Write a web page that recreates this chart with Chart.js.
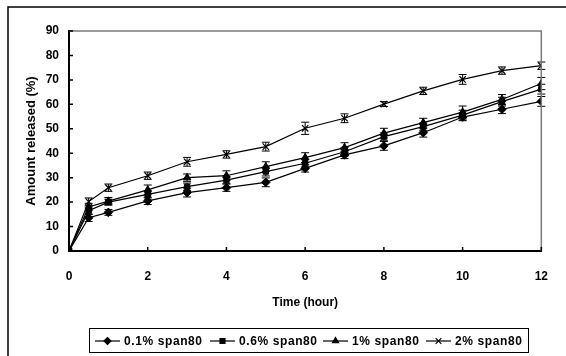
<!DOCTYPE html>
<html>
<head>
<meta charset="utf-8">
<script src="https://cdn.jsdelivr.net/npm/chart.js@4/dist/chart.umd.min.js"></script>
<style>
    html, body { margin: 0; padding: 0; background: #fff; }
    #wrap { width: 566px; height: 356px; position: relative; }
</style>
</head>
<body>
<div id="wrap"><canvas id="release-chart" width="566" height="356"></canvas></div>
<script>
/* --------------------------------------------------------------
   DATA – release profile
-------------------------------------------------------------- */

const timeHours = [0, 0.5, 1, 2, 3, 4, 5, 6, 7, 8, 9, 10, 11, 12];

const seriesNames = ["0.1% span80", "0.6% span80", "1% span80", "2% span80"];

const span01 = [0, 13.6, 15.8, 20.5, 23.9, 25.9, 28.1, 33.8, 39.3, 43.0, 48.4, 54.8, 58.0, 61.2];
const span06 = [0, 16.5, 20.0, 23.2, 26.3, 29.0, 32.5, 35.9, 40.6, 46.8, 50.9, 55.6, 61.1, 66.2];
const span1  = [0, 18.0, 20.4, 25.0, 30.0, 30.8, 34.5, 38.2, 42.3, 48.2, 52.5, 56.8, 62.0, 68.5];
const span2  = [0, 20.2, 25.9, 30.8, 36.5, 39.5, 42.7, 50.2, 54.3, 60.1, 65.5, 70.2, 73.8, 75.8];

// half-length of the error bars (%)
const err01 = [0, 1.5, 1.2, 1.5, 1.8, 1.5, 1.8, 1.5, 1.5, 1.8, 1.8, 1.5, 1.8, 2.0];
const err06 = [0, 1.5, 1.2, 1.5, 1.5, 1.5, 1.8, 1.5, 1.8, 1.5, 1.5, 2.0, 1.8, 2.0];
const err1  = [0, 1.5, 1.5, 2.0, 1.5, 2.0, 2.0, 2.0, 2.0, 2.0, 1.8, 2.5, 2.0, 2.5];
const err2  = [0, 1.5, 1.5, 1.5, 1.8, 1.5, 1.8, 2.5, 1.8, 1.0, 1.5, 2.0, 1.5, 1.5];

const xTicks = [0, 2, 4, 6, 8, 10, 12];
const yTicks = [0, 10, 20, 30, 40, 50, 60, 70, 80, 90];

const markerStyles = ["rectRot", "rect", "triangle", "crossRot"];

/* --------------------------------------------------------------
   HELPERS
-------------------------------------------------------------- */

const FONT = "Arial, 'Liberation Sans', sans-serif";

function toPoints(values) {
    return timeHours.map((t, i) => ({ x: t, y: values[i] }));
}

function makeDataset(i, values, errors) {
    const style = markerStyles[i];
    return {
        label: seriesNames[i],
        data: toPoints(values),
        errors: errors,
        borderColor: "#000",
        backgroundColor: "#000",
        borderWidth: 1.2,
        pointStyle: style,
        pointRadius: style === "rect" ? 3.8 : (style === "crossRot" ? 4.5 : 4.3),
        pointBorderWidth: style === "crossRot" ? 1.2 : 1,
        pointBackgroundColor: "#000",
        pointBorderColor: "#000",
        tension: 0
    };
}

/* --------------------------------------------------------------
   PLUGINS – frame, inward ticks, error bars, legend
-------------------------------------------------------------- */

const framePlugin = {
    id: "frame",
    beforeDraw(chart) {
        const ctx = chart.ctx;
        ctx.save();
        ctx.fillStyle = "#fff";
        ctx.fillRect(0, 0, chart.width, chart.height);
        // outer figure border (left + top only visible)
        ctx.strokeStyle = "#000";
        ctx.lineWidth = 1.5;
        ctx.beginPath();
        ctx.moveTo(8, chart.height);
        ctx.lineTo(8, 7);
        ctx.lineTo(chart.width, 7);
        ctx.stroke();
        ctx.restore();
    },
    afterDraw(chart) {
        const ctx = chart.ctx;
        const a = chart.chartArea;
        ctx.save();
        // plot area top/right edge
        ctx.strokeStyle = "#7a7a7a";
        ctx.lineWidth = 1.5;
        ctx.beginPath();
        ctx.moveTo(a.left, a.top);
        ctx.lineTo(a.right, a.top);
        ctx.lineTo(a.right, a.bottom);
        ctx.stroke();

        // tick marks pointing into the plot
        ctx.strokeStyle = "#000";
        ctx.lineWidth = 1.5;
        const xs = chart.scales.x, ys = chart.scales.y;
        ctx.beginPath();
        xTicks.forEach(v => {
            const px = xs.getPixelForValue(v);
            ctx.moveTo(px, a.bottom);
            ctx.lineTo(px, a.bottom - 4);
        });
        yTicks.forEach(v => {
            const py = ys.getPixelForValue(v);
            ctx.moveTo(a.left, py);
            ctx.lineTo(a.left + 4, py);
        });
        ctx.stroke();
        ctx.restore();
    }
};

const errorBarPlugin = {
    id: "errorBars",
    beforeDatasetsDraw(chart) {
        const ctx = chart.ctx;
        const ys = chart.scales.y;
        ctx.save();
        ctx.strokeStyle = "#000";
        ctx.lineWidth = 1;
        chart.data.datasets.forEach((ds, i) => {
            const meta = chart.getDatasetMeta(i);
            meta.data.forEach((pt, j) => {
                const e = ds.errors[j];
                if (!e) return;
                const v = ds.data[j].y;
                const top = ys.getPixelForValue(v + e);
                const bot = ys.getPixelForValue(v - e);
                ctx.beginPath();
                ctx.moveTo(pt.x, top);
                ctx.lineTo(pt.x, bot);
                ctx.moveTo(pt.x - 4, top);
                ctx.lineTo(pt.x + 4, top);
                ctx.moveTo(pt.x - 4, bot);
                ctx.lineTo(pt.x + 4, bot);
                ctx.stroke();
            });
        });
        ctx.restore();
    }
};

// legend drawn as in the original: short line with the marker in the middle
const legendX = [95, 210, 323, 426];

const legendPlugin = {
    id: "lineLegend",
    afterDraw(chart) {
        const ctx = chart.ctx;
        ctx.save();
        ctx.strokeStyle = "#000";
        ctx.lineWidth = 1;
        ctx.strokeRect(89.5, 328.5, 439, 24);

        const cy = 341;
        ctx.font = "bold 12px " + FONT;
        ctx.letterSpacing = "0.6px";
        ctx.textBaseline = "middle";
        ctx.fillStyle = "#000";
        chart.data.datasets.forEach((ds, i) => {
            const x0 = legendX[i];
            ctx.lineWidth = 1.2;
            ctx.beginPath();
            ctx.moveTo(x0, cy);
            ctx.lineTo(x0 + 25, cy);
            ctx.stroke();
            Chart.helpers.drawPoint(ctx, {
                pointStyle: ds.pointStyle,
                radius: ds.pointStyle === "crossRot" ? 4 : 3.5,
                borderWidth: 1
            }, x0 + 12.5, cy);
            ctx.fillText(ds.label, x0 + 29, cy + 0.5);
        });
        ctx.restore();
    }
};

/* --------------------------------------------------------------
   CHART
-------------------------------------------------------------- */

const tickFont = { family: FONT, size: 12, weight: "bold" };

new Chart(document.getElementById("release-chart"), {
    type: "line",
    data: {
        datasets: [
            makeDataset(0, span01, err01),
            makeDataset(1, span06, err06),
            makeDataset(2, span1, err1),
            makeDataset(3, span2, err2)
        ]
    },
    options: {
        responsive: false,
        animation: false,
        layout: { padding: { left: 8, top: 31, right: 17, bottom: 0 } },
        plugins: {
            legend: { display: false },
            tooltip: { enabled: false }
        },
        scales: {
            x: {
                type: "linear",
                min: 0,
                max: 12,
                afterFit: s => { s.height = 105; },
                afterBuildTicks: s => { s.ticks = xTicks.map(v => ({ value: v })); },
                grid: { display: false, drawTicks: false },
                border: { display: true, color: "#000", width: 2 },
                ticks: { font: tickFont, color: "#000", padding: 18, maxRotation: 0 },
                title: {
                    display: true,
                    text: "Time (hour)",
                    color: "#000",
                    font: tickFont,
                    padding: { top: 0, bottom: 46 }
                }
            },
            y: {
                min: 0,
                max: 90,
                afterFit: s => { s.width = 61; },
                afterBuildTicks: s => { s.ticks = yTicks.map(v => ({ value: v })); },
                grid: { display: false, drawTicks: false },
                border: { display: true, color: "#000", width: 2 },
                ticks: { font: tickFont, color: "#000", padding: 10 },
                title: {
                    display: true,
                    text: "Amount released (%)",
                    color: "#000",
                    font: { family: FONT, size: 13, weight: "bold" },
                    padding: { top: 16, bottom: 0 }
                }
            }
        }
    },
    plugins: [framePlugin, errorBarPlugin, legendPlugin]
});
</script>
</body>
</html>
